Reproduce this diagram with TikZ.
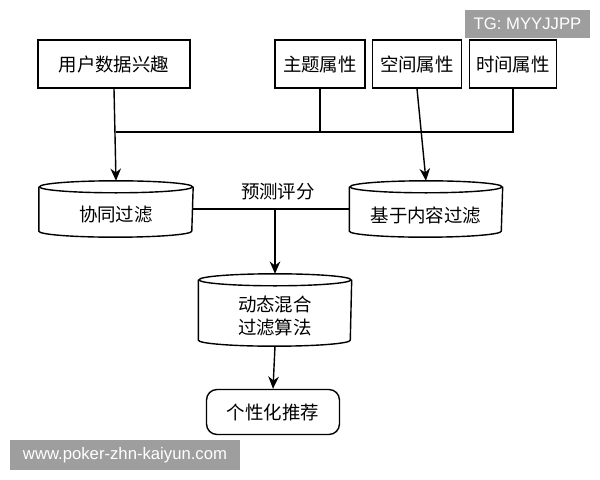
\documentclass[tikz,border=0pt]{standalone}
\usepackage{fontspec}
\newfontfamily\cjk{Noto Sans CJK SC}
\newfontfamily\wmfont{Liberation Sans}
\usetikzlibrary{arrows.meta}
\tikzset{
  box/.style={draw, thick, font=\cjk\fontsize{10.5}{13}\selectfont, inner sep=0pt, align=center},
  drumbox/.style={box, draw=none},
  flow/.style={thick, -{Stealth[length=7pt,width=6pt]}},
  wm/.style={fill=black!38, text=white, font=\wmfont\fontsize{9.5}{11}\selectfont, inner sep=0pt}
}
% drum outline around a named node: #1 name, #2 half width
\newcommand\drum[2]{%
  \fill[white] ([yshift=-0.12cm]#1.north west) rectangle ([yshift=0.12cm]#1.south east);
  \draw[thick,fill=white] ([yshift=-0.12cm]#1.north west) -- ([yshift=0.12cm]#1.south west)
    arc[start angle=180,end angle=360,x radius=#2,y radius=0.12cm] -- ([yshift=-0.12cm]#1.north east);
  \draw[thick,fill=white] ([yshift=-0.12cm]#1.north) ellipse[x radius=#2,y radius=0.12cm];
}
\begin{document}
\begin{tikzpicture}[x=0.02cm,y=-0.02cm]
\useasboundingbox (0,0) rectangle (600,480);
% top boxes
\node[box, minimum width=3.04cm, minimum height=0.96cm] (user) at (114,64) {用户数据兴趣};
\node[box, minimum width=1.8cm, minimum height=0.96cm] (topic) at (320,64) {主题属性};
\node[box, minimum width=1.78cm, minimum height=0.96cm] (space) at (417,64) {空间属性};
\node[box, minimum width=1.74cm, minimum height=0.96cm] (time) at (513,64) {时间属性};
% drums
\node[drumbox, minimum width=3.06cm, minimum height=1.1cm] (cf) at (116,209) {};
\drum{cf}{1.53cm}
\node[box, draw=none] at (116,215) {协同过滤};
\node[drumbox, minimum width=3.04cm, minimum height=1.1cm] (cb) at (426,209) {};
\drum{cb}{1.52cm}
\node[box, draw=none] at (426,215) {基于内容过滤};
\node[drumbox, minimum width=3.04cm, minimum height=1.42cm] (mix) at (275,310) {};
\drum{mix}{1.52cm}
\node[box, draw=none] at (275,316) {动态混合\\过滤算法};
\node[box, rounded corners=6pt, minimum width=2.66cm, minimum height=0.9cm] (rec) at (273,412) {个性化推荐};
% connectors
\coordinate (jt) at (320,132);
\coordinate (jr) at (513,132);
\coordinate (jl) at (116,132);
\coordinate (mid) at (275,209);
\draw[thick] (topic.south) -- (jt);
\draw[thick] (time.south) -- (jr) -- (jl);
\draw[flow] (user.south) -- (cf.north);
\draw[flow] (space.south) -- (cb.north);
\draw[thick] (cf.east) -- (cb.west);
\draw[flow] (mid) -- (mix.north);
\draw[flow] (mix.south) -- (rec.north);
\node[box, draw=none] (score) at (278,192) {预测评分};
% watermarks
\node[wm, minimum width=2.5cm, minimum height=0.56cm] (tg) at (527.5,24) {TG: MYYJJPP};
\node[wm, minimum width=4.6cm, minimum height=0.6cm] (url) at (125,455) {www.poker-zhn-kaiyun.com};
\end{tikzpicture}
\end{document}
